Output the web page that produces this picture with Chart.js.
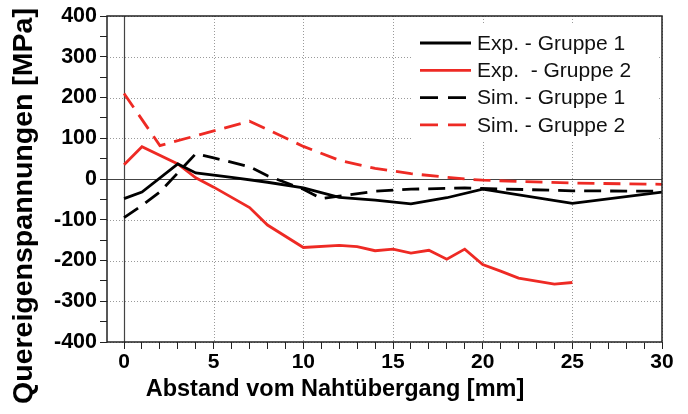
<!DOCTYPE html>
<html>
<head>
<meta charset="utf-8">
<script src="https://cdn.jsdelivr.net/npm/chart.js@4/dist/chart.umd.min.js"></script>
<style>
  html, body { margin: 0; padding: 0; background: #fff; }
  #wrap { width: 688px; height: 414px; }
</style>
</head>
<body>
<div id="wrap"><canvas id="chart"></canvas></div>
<script>
// Abstand [mm] und Spannung [MPa]
const exp1Dist   = [0, 1, 3, 4, 6, 8, 10, 12, 14, 16, 18, 20, 25, 30];
const exp1Stress = [-48, -32, 37, 15, 4, -8, -22, -45, -52, -61, -46, -25, -60, -32];

const exp2Dist   = [0, 1, 3, 4, 5, 7, 8, 10, 12, 13, 14, 15, 16, 17, 18, 19, 20, 21, 22, 24, 25];
const exp2Stress = [35, 79, 37, 3, -20, -70, -113, -168, -163, -166, -176, -172, -182, -175, -197, -172, -210, -226, -243, -258, -254];

const sim1Dist   = [0, 1, 2, 3, 4, 5, 7, 8, 10, 11, 12, 14, 16, 19, 25, 30];
const sim1Stress = [-95, -65, -32, 15, 62, 52, 30, 8, -25, -48, -42, -30, -25, -22, -29, -30];

const sim2Dist   = [0, 2, 7, 10, 12, 14, 16, 19, 20, 25, 30];
const sim2Stress = [210, 82, 142, 80, 46, 26, 13, 0, -3, -10, -13];

const seriesNames = ['Exp. - Gruppe 1', 'Exp.  - Gruppe 2', 'Sim. - Gruppe 1', 'Sim. - Gruppe 2'];

const xTickValues = [0, 5, 10, 15, 20, 25, 30];
const yTickValues = [-400, -300, -200, -100, 0, 100, 200, 300, 400];

const xTitle = 'Abstand vom Nahtübergang [mm]';
const yTitle = 'Quereigenspannungen [MPa]';

const FONT = "'Liberation Sans', Arial, sans-serif";

function pts(xs, ys) {
    return xs.map((x, i) => ({ x: x, y: ys[i] }));
}

// Gitter, Nulllinien, Titel, Rahmen und Legende
const extras = {
    id: 'extras',
    beforeDatasetsDraw(chart) {
        const { ctx, chartArea: a, scales: { x, y } } = chart;
        ctx.save();
        // gepunktetes Gitter
        ctx.strokeStyle = '#9a9a9a';
        ctx.lineWidth = 1;
        ctx.setLineDash([1, 2]);
        ctx.beginPath();
        xTickValues.forEach(v => {
            const px = Math.round(x.getPixelForValue(v)) + 0.5;
            ctx.moveTo(px, a.top); ctx.lineTo(px, a.bottom);
        });
        yTickValues.forEach(v => {
            const py = Math.round(y.getPixelForValue(v)) + 0.5;
            ctx.moveTo(a.left, py); ctx.lineTo(a.right, py);
        });
        ctx.stroke();
        ctx.setLineDash([]);
        // Nulllinien
        ctx.strokeStyle = '#444';
        ctx.lineWidth = 1.2;
        const y0 = Math.round(y.getPixelForValue(0)) + 0.5;
        const x0 = Math.round(x.getPixelForValue(0)) + 0.5;
        ctx.beginPath();
        ctx.moveTo(a.left, y0); ctx.lineTo(a.right, y0);
        ctx.moveTo(x0, a.top); ctx.lineTo(x0, a.bottom);
        ctx.stroke();
        ctx.restore();
    },
    afterDatasetsDraw(chart) {
        const { ctx, chartArea: a } = chart;
        ctx.save();
        // Legende
        ctx.fillStyle = '#fff';
        ctx.fillRect(412, 24, a.right - 416, 118);
        ctx.font = '21px ' + FONT;
        ctx.textBaseline = 'middle';
        chart.data.datasets.forEach((ds, i) => {
            const yy = 43 + i * 27.3;
            const dashed = !!ds.borderDash;
            ctx.strokeStyle = ds.borderColor;
            ctx.lineWidth = ds.borderWidth;
            ctx.setLineDash(dashed ? [18, 10] : []);
            ctx.beginPath();
            ctx.moveTo(420, yy); ctx.lineTo(dashed ? 466 : 471, yy);
            ctx.stroke();
            ctx.setLineDash([]);
            ctx.fillStyle = '#111';
            ctx.fillText(ds.label, 477, yy + 1);
        });
        // Rahmen
        ctx.strokeStyle = '#222';
        ctx.lineWidth = 1.5;
        ctx.strokeRect(a.left, a.top, a.right - a.left, a.bottom - a.top);
        // Achsentitel
        ctx.fillStyle = '#000';
        ctx.textAlign = 'center';
        ctx.textBaseline = 'middle';
        ctx.font = 'bold 23.5px ' + FONT;
        ctx.fillText(xTitle, 335, 390);
        ctx.translate(24, 206);
        ctx.rotate(-Math.PI / 2);
        ctx.font = 'bold 28.5px ' + FONT;
        ctx.fillText(yTitle, 0, 0);
        ctx.restore();
    }
};

function everyStep(from, to, step) {
    const out = [];
    for (let v = from; v <= to; v += step) out.push({ value: v });
    return out;
}

new Chart(document.getElementById('chart'), {
    type: 'line',
    data: {
        datasets: [
            { label: seriesNames[0], data: pts(exp1Dist, exp1Stress), borderColor: '#000', borderWidth: 2.8 },
            { label: seriesNames[1], data: pts(exp2Dist, exp2Stress), borderColor: '#ee2a24', borderWidth: 2.8 },
            { label: seriesNames[2], data: pts(sim1Dist, sim1Stress), borderColor: '#000', borderWidth: 2.8, borderDash: [17, 9] },
            { label: seriesNames[3], data: pts(sim2Dist, sim2Stress), borderColor: '#ee2a24', borderWidth: 2.8, borderDash: [17, 9] }
        ]
    },
    options: {
        responsive: true,
        maintainAspectRatio: false,
        animation: false,
        layout: { padding: { top: 16, right: 26, left: 0, bottom: 0 } },
        elements: { point: { radius: 0 }, line: { tension: 0, fill: false } },
        plugins: { legend: { display: false }, tooltip: { enabled: false } },
        scales: {
            x: {
                type: 'linear',
                min: -0.95,
                max: 30,
                afterBuildTicks: s => { s.ticks = everyStep(0, 30, 1); },
                afterFit: s => { s.height = 72; },
                grid: {
                    drawOnChartArea: false,
                    tickColor: '#222',
                    tickLength: 7,
                    lineWidth: 1
                },
                border: { display: false },
                ticks: {
                    autoSkip: false,
                    maxRotation: 0,
                    padding: 1,
                    color: '#000',
                    font: { family: FONT, size: 21, weight: 'bold' },
                    callback: v => xTickValues.includes(v) ? String(v) : ''
                },
                title: { display: false }
            },
            y: {
                min: -400,
                max: 400,
                afterBuildTicks: s => { s.ticks = everyStep(-400, 400, 50); },
                afterFit: s => { s.width = 107; },
                grid: {
                    drawOnChartArea: false,
                    tickColor: '#222',
                    tickLength: 7,
                    lineWidth: 1
                },
                border: { display: false },
                ticks: {
                    autoSkip: false,
                    padding: 3,
                    color: '#000',
                    font: { family: FONT, size: 21.5, weight: 'bold' },
                    callback: v => yTickValues.includes(v) ? String(v) : ''
                },
                title: { display: false }
            }
        }
    },
    plugins: [extras]
});
</script>
</body>
</html>
